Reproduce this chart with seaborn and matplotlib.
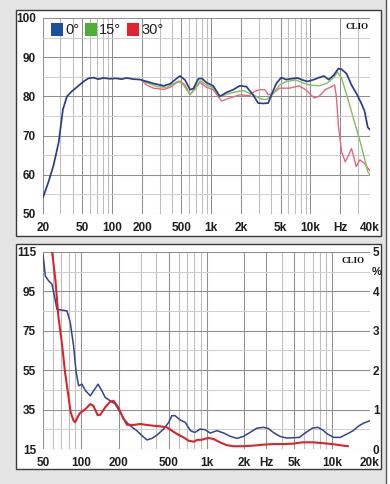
import numpy as np
import pandas as pd
import matplotlib.pyplot as plt
import seaborn as sns
from matplotlib.patches import Rectangle, Patch
from matplotlib.lines import Line2D
from matplotlib.ticker import FixedLocator, NullFormatter

# --- frequency response (dB SPL) at 0, 15, 30 degrees ---
f_0deg = [20, 22.8, 25.6, 28.8, 31.8, 34.9, 39.1, 45.6, 51.3, 57.4, 64.4, 72.3, 81.1, 94.5,
          110, 124, 140, 164, 191, 223, 261, 330, 384, 448, 484, 543, 610, 660, 740, 800,
          898, 1046, 1220, 1420, 1660, 1940, 2260, 2640, 2970, 3340, 3750, 4050, 4530,
          5080, 5690, 6370, 7420, 8320, 9320, 10900, 12200, 13700, 15300, 17200, 19200,
          20700, 23200, 26000, 29100, 32600, 35200, 38000, 40000]
spl_0deg = [54.2, 58.3, 62.5, 68.3, 76.7, 80.0, 81.3, 82.7, 83.8, 84.6, 84.8, 84.4, 84.7, 84.5,
            84.6, 84.4, 84.7, 84.4, 84.3, 83.8, 83.3, 82.7, 83.2, 84.6, 85.2, 84.2, 81.7, 82.0,
            84.5, 84.6, 83.5, 82.7, 80.0, 81.0, 81.7, 82.7, 82.5, 80.4, 78.3, 78.2, 78.3, 80.4,
            83.3, 84.8, 84.3, 84.5, 84.7, 84.2, 83.8, 84.3, 84.8, 85.2, 84.3, 85.4, 87.1,
            86.9, 85.8, 82.9, 80.8, 78.3, 76.3, 72.1, 71.5]

f_15deg = [200, 223, 284, 356, 466, 520, 610, 685, 770, 898, 1046, 1220, 1660, 2100, 2640,
           3210, 3610, 4050, 4890, 5690, 7140, 8320, 9700, 12200, 14600, 17200, 18800,
           20700, 24000, 28000, 32600, 38000, 40000]
spl_15deg = [84.0, 83.5, 82.5, 82.3, 83.9, 83.0, 80.5, 81.8, 84.0, 82.9, 82.1, 80.0, 81.0, 81.5,
             80.4, 79.3, 79.2, 80.2, 82.9, 83.8, 84.2, 83.5, 82.9, 82.7, 83.3, 84.8, 86.2,
             84.6, 79.2, 73.3, 67.5, 60.8, 60.0]

f_30deg = [200, 223, 261, 330, 384, 448, 484, 543, 610, 685, 770, 898, 1046, 1270, 1540,
           1940, 2440, 2750, 3100, 3480, 3750, 4210, 4890, 6150, 7720, 8970, 10900, 12200,
           14100, 16400, 17600, 18300, 19200, 20700, 22500, 24300, 26000, 27400, 29000,
           31600, 35200, 38000, 40000]
spl_30deg = [84.0, 82.9, 82.1, 81.8, 82.3, 83.5, 83.9, 82.9, 80.4, 82.1, 83.5, 82.3, 81.7, 78.8,
             79.6, 80.4, 80.2, 81.3, 81.7, 81.7, 80.4, 80.8, 82.1, 82.1, 82.7, 81.7, 79.6,
             80.0, 81.7, 82.5, 82.9, 80.0, 72.5, 65.8, 63.3, 65.0, 66.7, 64.6, 62.1, 63.8,
             62.9, 61.7, 61.0]

# --- distortion (dB SPL and %) ---
thd_f_blue = [50, 52.2, 55.5, 59, 62.7, 64.6, 68.8, 73.1, 77.6, 82.4, 87.5, 91.8, 96.1, 102,
              109, 119, 129, 137, 147, 156, 171, 188, 205, 225, 247, 279, 306, 336, 368, 404,
              455, 500, 530, 563, 618, 678, 745, 807, 890, 977, 1070, 1210, 1370, 1550, 1750,
              1970, 2220, 2500, 2820, 3090, 3400, 3840, 4320, 4870, 5490, 6180, 6970, 7640,
              8360, 9160, 10300, 11600, 13100, 14700, 16100, 17600, 20000]
thd_blue = [113.8, 102.8, 100.3, 98.6, 90.2, 85.9, 85.6, 85.4, 85.1, 79.2, 67.4, 53.9, 47.1, 47.9,
            44.6, 42.0, 45.4, 47.9, 44.6, 41.2, 39.5, 37.8, 33.6, 29.4, 26.8, 24.3, 21.8, 19.6,
            20.4, 22.1, 25.1, 28.5, 31.9, 31.9, 29.7, 28.5, 24.3, 23.4, 25.1, 24.8, 23.1, 24.3,
            23.1, 21.4, 20.4, 21.4, 23.4, 25.5, 26.0, 25.5, 23.4, 21.4, 20.6, 20.7, 20.9, 23.4,
            25.6, 26.0, 24.8, 22.6, 20.9, 20.9, 22.6, 24.3, 26.5, 28.0, 29.4]

thd_f_red = [58, 59, 62.7, 66.4, 70.6, 74.9, 79.6, 83, 87.5, 90.1, 94, 98.2, 109, 119, 126,
             136, 143, 156, 171, 182, 199, 216, 233, 263, 297, 336, 379, 428, 483, 530, 584,
             656, 722, 792, 841, 918, 1030, 1135, 1280, 1440, 1630, 1970, 2350, 2820, 3400,
             4080, 4870, 5820, 6970, 8360, 10300, 12200, 13400]
thd_red = [120.0, 115.5, 101.1, 81.7, 69.0, 53.9, 42.0, 33.6, 29.4, 28.5, 31.0, 33.2, 35.3, 37.8,
           36.9, 32.2, 32.4, 36.1, 39.0, 39.5, 36.1, 31.0, 27.3, 27.2, 27.7, 27.2, 26.8, 26.5,
           26.0, 24.3, 22.6, 20.9, 19.2, 18.7, 19.6, 19.7, 20.6, 20.1, 18.4, 17.0, 16.4, 16.4,
           16.7, 17.2, 17.5, 17.5, 17.7, 18.4, 18.4, 18.0, 17.4, 16.7, 16.4]

top_ticks = [20, 50, 100, 200, 500, 1000, 2000, 5000, 10000, 20000, 40000]
top_labels = ["20", "50", "100", "200", "500", "1k", "2k", "5k", "10k", "Hz", "40k"]
bot_ticks = [50, 100, 200, 500, 1000, 2000, 3000, 5000, 10000, 20000]
bot_labels = ["50", "100", "200", "500", "1k", "2k", "Hz", "5k", "10k", "20k"]
pct_ticks = [0, 1, 2, 3, 4, 5]

angle_colors = {"0°": "#2c3c88", "15°": "#82bf5e", "30°": "#e8677c"}
legend_colors = {"0°": "#1b4f9f", "15°": "#4daf36", "30°": "#e3232c"}

sns.set_theme(style="white")
plt.rcParams['font.family'] = ['Liberation Sans Narrow', 'Liberation Sans', 'DejaVu Sans']

W, H = 390, 484
fig = plt.figure(figsize=(W / 100, H / 100), dpi=100)
fig.patch.set_facecolor('#e4e4e4')


def px_box(x0, y0, x1, y1):
    return [x0 / W, 1 - y1 / H, (x1 - x0) / W, (y1 - y0) / H]


# white panels with thin dark border
for (x0, y0, x1, y1) in [(16, 10, 381, 236), (16, 244, 381, 469)]:
    fig.add_artist(Rectangle((x0 / W, 1 - y1 / H), (x1 - x0) / W, (y1 - y0) / H,
                             transform=fig.transFigure, facecolor='white',
                             edgecolor='#3a3a3a', lw=1.0, zorder=-2))
fig.add_artist(Rectangle((386 / W, 0), 4 / W, 1, transform=fig.transFigure,
                         facecolor='white', edgecolor='none', zorder=-2))
fig.add_artist(Line2D([386 / W, 386 / W], [0, 1], transform=fig.transFigure,
                      color='#555555', lw=1.0, zorder=-1))


def log_minor(lo, hi):
    out = []
    for d in range(0, 6):
        for m in range(1, 10):
            v = m * 10 ** d
            if lo <= v <= hi:
                out.append(v)
    return out


def style_axes(ax, xlo, xhi, ylo, yhi, ystep, ticks, labels):
    ax.set_xscale('log')
    ax.set_xlim(xlo, xhi)
    ax.set_ylim(ylo, yhi)
    ax.set_facecolor('none')
    for s in ax.spines.values():
        s.set_visible(False)
    # vertical grid at every 1..9 decade step
    for v in log_minor(xlo, xhi):
        col = '#8f8f8f' if v in ticks else '#bcbcbc'
        ax.axvline(v, color=col, lw=0.75, zorder=0)
    # horizontal grid: major + halfway lines
    for v in np.arange(ylo, yhi + 0.1, ystep):
        ax.axhline(v, color='#8f8f8f', lw=0.75, zorder=0)
    for v in np.arange(ylo + ystep / 2, yhi, ystep):
        ax.axhline(v, color='#cfcfcf', lw=0.75, zorder=0)
    ax.xaxis.set_major_locator(FixedLocator(ticks))
    ax.xaxis.set_minor_formatter(NullFormatter())
    ax.set_xticklabels(labels)
    ax.set_yticks(np.arange(ylo, yhi + 0.1, ystep))
    ax.set_yticklabels([f"{int(v)}" for v in np.arange(ylo, yhi + 0.1, ystep)])
    ax.tick_params(axis='both', which='both', length=0, labelsize=8.5,
                   colors='#1e1e1e')
    ax.tick_params(axis='x', pad=6)
    ax.tick_params(axis='y', pad=5)
    for t in ax.get_xticklabels() + ax.get_yticklabels():
        t.set_fontweight('bold')
    ax.set_xlabel("")
    ax.set_ylabel("")


# ---------------- top: frequency response ----------------
ax1 = fig.add_axes(px_box(43, 18, 370, 214))
fr = pd.concat([
    pd.DataFrame({"f": f_30deg, "spl": spl_30deg, "angle": "30°"}),
    pd.DataFrame({"f": f_15deg, "spl": spl_15deg, "angle": "15°"}),
    pd.DataFrame({"f": f_0deg, "spl": spl_0deg, "angle": "0°"}),
])
sns.lineplot(data=fr, x="f", y="spl", hue="angle", hue_order=["30°", "15°", "0°"],
             palette=angle_colors, lw=1.0, legend=False, ax=ax1, zorder=3)
ax1.lines[-1].set_linewidth(1.25)
style_axes(ax1, 20, 40000, 50, 100, 10, top_ticks, top_labels)

handles = [Patch(facecolor=legend_colors[k], edgecolor='none', label=k)
           for k in ["0°", "15°", "30°"]]
leg = ax1.legend(handles=handles, loc='upper left', bbox_to_anchor=(0.024, 0.975), ncol=3,
                 frameon=False, handlelength=0.85, handleheight=1.0,
                 handletextpad=0.12, columnspacing=0.4, borderpad=0, borderaxespad=0,
                 prop={'family': 'Liberation Sans', 'size': 10.5})
for t in leg.get_texts():
    t.set_color('#1e1e1e')
ax1.text(0.995, 0.975, "CLIO", transform=ax1.transAxes, ha='right', va='top',
         fontsize=6.5, fontweight='bold', family='Liberation Serif', color='#111111')

# ---------------- bottom: distortion ----------------
ax2 = fig.add_axes(px_box(43, 252, 370, 449))
thd = pd.concat([
    pd.DataFrame({"f": thd_f_blue, "lvl": thd_blue, "curve": "blue"}),
    pd.DataFrame({"f": thd_f_red, "lvl": thd_red, "curve": "red"}),
])
sns.lineplot(data=thd[thd.curve == "blue"], x="f", y="lvl", color="#33438c", lw=1.1,
             ax=ax2, zorder=3)
sns.lineplot(data=thd[thd.curve == "red"], x="f", y="lvl", color="#d8252b", lw=1.5,
             ax=ax2, zorder=4)
style_axes(ax2, 50, 20000, 15, 115, 20, bot_ticks, bot_labels)
ax2.text(0.985, 0.975, "CLIO", transform=ax2.transAxes, ha='right', va='top',
         fontsize=6.5, fontweight='bold', family='Liberation Serif', color='#111111')

ax2r = ax2.twinx()
ax2r.set_ylim(0, 5)
ax2r.set_yticks(pct_ticks)
ax2r.set_yticklabels([str(v) for v in pct_ticks])
for s in ax2r.spines.values():
    s.set_visible(False)
ax2r.tick_params(axis='y', length=0, pad=2, labelsize=8.5, colors='#1e1e1e')
for t in ax2r.get_yticklabels():
    t.set_fontweight('bold')
ax2r.text(1.006, 0.9, "%", transform=ax2r.transAxes, ha='left', va='center',
          fontsize=8, fontweight='bold', color='#1e1e1e')
ax2r.grid(False)

fig.savefig("out.png", dpi=100, facecolor=fig.get_facecolor())
